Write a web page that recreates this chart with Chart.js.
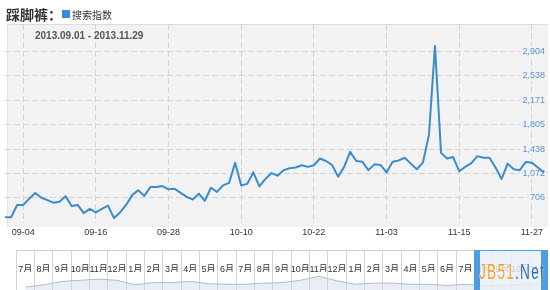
<!DOCTYPE html>
<html>
<head>
<meta charset="utf-8">
<script src="https://cdn.jsdelivr.net/npm/chart.js@4/dist/chart.umd.min.js"></script>
<style>
  body { margin: 0; width: 550px; height: 290px; overflow: hidden; position: relative; background: #fff;
         font-family: "Liberation Sans", Arial, "Noto Sans CJK SC", sans-serif; }
  .abs { position: absolute; }
  #hdr { left: 6px; top: 4px; height: 18px; line-height: 18px; white-space: nowrap; }
  #hdr .ttl { font: bold 14px "Noto Sans CJK SC", sans-serif; color: #333; vertical-align: middle; }
  #hdr .sq { display: inline-block; width: 8px; height: 8px; background: #2f8de4; margin: 0 2px 0 0; vertical-align: middle; }
  #hdr .lg { font: 10px "Noto Sans CJK SC", sans-serif; color: #333; vertical-align: middle; }
  #plotbg { left: 7px; top: 24px; width: 541px; height: 203px; background: #f2f2f2;
            border-top: 1px solid #dcdcdc; border-left: 1px solid #e2e2e2; box-sizing: border-box; }
  #range { left: 35px; top: 30px; font: bold 10px "Liberation Sans", Arial, sans-serif; color: #555; }
  #navbox { left: 16px; top: 250px; width: 532px; height: 42px; border: 1px solid #cfcfcf; box-sizing: border-box; }
  #sel { left: 474px; top: 250px; width: 74px; height: 40px; background: rgba(232,239,247,0.8);
         border-left: 6px solid #4d9de0; border-right: 7px solid #4d9de0; border-top: 1px solid #4d9de0; box-sizing: border-box; }
  #wm { left: 479px; top: 259px; font: 22px "Liberation Sans", Arial, sans-serif; white-space: nowrap;
        transform: scaleX(0.62); transform-origin: 0 0; letter-spacing: 2px; }
  #wm .a { color: #f3a326; text-shadow: 0 0 2px #fff; }
  #wm .b { color: #2d6db5; text-shadow: 0 0 2px #fff; }
</style>
</head>
<body>
<div id="plotbg" class="abs"></div>
<canvas id="chartMain" class="abs" style="left:0;top:0" width="550" height="242"></canvas>
<div id="hdr" class="abs"><span class="ttl">踩脚裤：</span><span class="sq"></span><span class="lg">搜索指数</span></div>
<div id="range" class="abs">2013.09.01 - 2013.11.29</div>

<div id="navbox" class="abs"></div>
<canvas id="chartNav" class="abs" style="left:16px;top:250px" width="532" height="40"></canvas>
<canvas id="chartNavMonths" class="abs" style="left:16px;top:256px" width="532" height="16"></canvas>
<div id="sel" class="abs"></div>
<div id="wm" class="abs"><span class="a">JB51</span><span class="b">.Net</span></div>

<script>
// daily search index, 2013-09-01 .. 2013-11-29
const indexValues = [
  413, 413, 599, 599, 691, 779, 706, 672, 633, 647,
  731, 584, 599, 476, 540, 486, 540, 589, 403, 486,
  599, 746, 819, 735, 867, 867, 882, 833, 842, 779,
  721, 681, 769, 662, 857, 794, 892, 930, 1233, 892,
  915, 1087, 877, 989, 1077, 1038, 1121, 1150, 1160, 1194,
  1170, 1194, 1296, 1258, 1200, 1024, 1170, 1395, 1258, 1248,
  1121, 1208, 1200, 1087, 1248, 1267, 1307, 1219, 1135, 1233,
  1648, 2985, 1380, 1296, 1317, 1105, 1170, 1225, 1331, 1307,
  1307, 1160, 989, 1219, 1135, 1121, 1244, 1233, 1160, 1087
];
const yTicks = [706, 1072, 1438, 1805, 2171, 2538, 2904];
const yMin = 325, yMax = 3314;
const firstTick = 3, tickEvery = 12;   // 09-04, 09-16, ... 11-27

// overview navigator, one value per month from 2011-07 to 2013-11
const navMonths = ['7月','8月','9月','10月','11月','12月',
  '1月','2月','3月','4月','5月','6月','7月','8月','9月','10月','11月','12月',
  '1月','2月','3月','4月','5月','6月','7月','8月','9月','10月','11月'];
const navValues = [500, 900, 1500, 1700, 1900, 1700, 900, 1300, 1300, 1500, 1100, 1000, 1000, 1200,
  1300, 1700, 2400, 1600, 1000, 1200, 1200, 1000, 1000, 800, 1000, 800, 700, 1000, 1100];

const dayLabels = [];
const start = new Date(2013, 8, 1);
for (let i = 0; i < indexValues.length; i++) {
  const d = new Date(start.getFullYear(), start.getMonth(), start.getDate() + i);
  dayLabels.push(String(d.getMonth() + 1).padStart(2, '0') + '-' + String(d.getDate()).padStart(2, '0'));
}

const gridColor = '#d3d3d3';
const numFont = { family: '"Liberation Sans", Arial, sans-serif', size: 9 };
const noUi = { legend: { display: false }, tooltip: { enabled: false } };

new Chart(document.getElementById('chartMain').getContext('2d'), {
  type: 'line',
  data: {
    labels: dayLabels,
    datasets: [{
      label: '搜索指数',
      data: indexValues,
      borderColor: '#3b8cca',
      borderWidth: 2,
      pointRadius: 0,
      tension: 0,
      fill: false,
      borderJoinStyle: 'round'
    }]
  },
  options: {
    responsive: false,
    animation: false,
    layout: { padding: { left: 5, right: 4, top: 24, bottom: 0 } },
    plugins: noUi,
    scales: {
      x: {
        type: 'category',
        offset: false,
        grid: { color: gridColor, drawTicks: false },
        border: { display: false, dash: [6, 3] },
        ticks: {
          autoSkip: false, maxRotation: 0, minRotation: 0, padding: 4,
          color: '#333', font: numFont,
          callback: (v, i) => ((i - firstTick) % tickEvery === 0 && i >= firstTick) ? dayLabels[i] : null
        }
      },
      y: {
        position: 'right',
        min: yMin, max: yMax,
        afterBuildTicks: s => { s.ticks = yTicks.map(v => ({ value: v })); },
        grid: { color: gridColor, drawTicks: false },
        border: { display: false, dash: [6, 3] },
        ticks: {
          mirror: true, padding: 1,
          color: '#5b95cc', font: numFont,
          showLabelBackdrop: true, backdropColor: '#f2f2f2', backdropPadding: { x: 2, y: 0 },
          callback: v => v.toLocaleString('en-US')
        }
      }
    }
  }
});

// navigator: overview line + month cell lines
new Chart(document.getElementById('chartNav').getContext('2d'), {
  type: 'line',
  data: {
    labels: navMonths,
    datasets: [{
      data: navValues,
      borderColor: '#aebdcc',
      backgroundColor: 'rgba(205,217,230,0.45)',
      borderWidth: 1,
      pointRadius: 0,
      tension: 0,
      fill: 'start'
    }]
  },
  options: {
    responsive: false,
    animation: false,
    layout: { padding: 0 },
    plugins: noUi,
    scales: {
      x: {
        offset: true,
        grid: { offset: true, color: '#d4d4d4', drawTicks: false },
        border: { display: false },
        ticks: { display: false }
      },
      y: { display: false, min: 0, max: 7000 }
    }
  }
});

// navigator month labels
new Chart(document.getElementById('chartNavMonths').getContext('2d'), {
  type: 'line',
  data: { labels: navMonths, datasets: [] },
  options: {
    responsive: false,
    animation: false,
    layout: { padding: 0 },
    plugins: noUi,
    scales: {
      x: {
        offset: true,
        grid: { display: false, drawTicks: false },
        border: { display: false },
        ticks: {
          autoSkip: false, maxRotation: 0, minRotation: 0, padding: 0,
          color: '#333', font: { family: '"Liberation Sans", Arial, "Noto Sans CJK SC", sans-serif', size: 9 }
        }
      },
      y: { display: false }
    }
  }
});
</script>
</body>
</html>
